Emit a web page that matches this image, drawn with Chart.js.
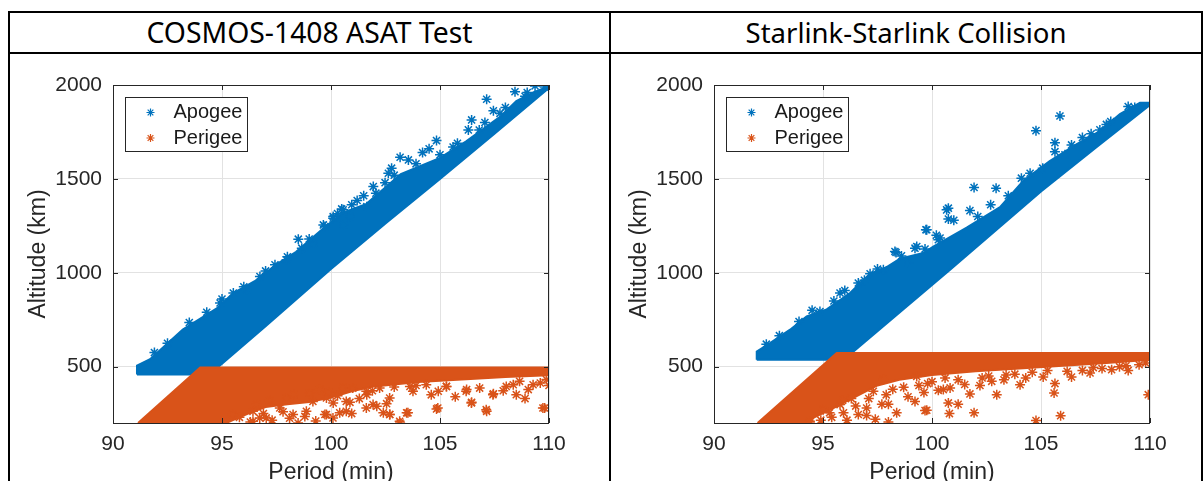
<!DOCTYPE html>
<html>
<head>
<meta charset="utf-8">
<script src="https://cdn.jsdelivr.net/npm/chart.js@4.4.1/dist/chart.umd.min.js"></script>
<style>
  html, body { margin: 0; padding: 0; width: 1204px; height: 481px; overflow: hidden; background: #fff; }
  .rule { position: absolute; background: #000; }
  .head { position: absolute; top: 13px; height: 39px; line-height: 39px; text-align: center;
          font-family: "Noto Sans", "Open Sans", sans-serif; font-size: 26px; color: #000; white-space: nowrap; }
  canvas { position: absolute; }
</style>
</head>
<body>
<div class="rule" style="left:8px;top:11px;width:1195px;height:2px"></div>
<div class="rule" style="left:8px;top:52px;width:1195px;height:2px"></div>
<div class="rule" style="left:8px;top:11px;width:2px;height:480px"></div>
<div class="rule" style="left:609px;top:11px;width:2px;height:480px"></div>
<div class="rule" style="left:1201px;top:11px;width:2px;height:480px"></div>
<div class="head" style="left:10px;width:599px"><span id="h1">COSMOS-1408 ASAT Test</span></div>
<div class="head" style="left:611px;width:590px"><span id="h2">Starlink-Starlink Collision</span></div>
<canvas id="c1" width="598" height="430" style="left:10px;top:54px"></canvas>
<canvas id="c2" width="590" height="430" style="left:611px;top:54px"></canvas>

<script>
// axis ticks
const xTicks = [90, 95, 100, 105, 110];
const yTicks = [500, 1000, 1500, 2000];

// ---- COSMOS-1408: dense regions (outline [period, altitude]) + scattered fragments
const cosmosApogeeBand = [
  [91.1, 458], [94.4, 458], [94.8, 496], [97, 715], [100, 1020], [102.5, 1263], [105, 1500],
  [107.5, 1740], [110, 1985], [110.05, 1995], [109.3, 1962], [108.5, 1915], [107.75, 1830],
  [106.2, 1700], [105, 1612], [103.2, 1525], [101.6, 1365], [100.55, 1320], [99.6, 1232],
  [98.4, 1112], [97.5, 1045], [96.5, 955], [95.5, 890], [94.76, 810], [93.2, 697],
  [91.7, 540], [91.1, 505], [91.1, 458]
];
const cosmosApogeePts = [
  [107.14, 1924], [108.44, 1964], [109.36, 1995], [107.45, 1863], [106.45, 1814], [107.06, 1800],
  [107.75, 1849], [104.84, 1704], [106.3, 1761], [105, 1628], [103.17, 1615], [103.55, 1601],
  [102.78, 1557], [102.63, 1530], [101.94, 1459], [102.06, 1424], [102.48, 1480], [100.95, 1362],
  [100.49, 1340], [100.1, 1300], [99.65, 1255], [100.56, 1255], [99.2, 1158], [100.87, 1300],
  [101.64, 1352], [98.5, 1179], [98.66, 1131], [97.96, 1069], [97.43, 1043], [96.74, 980],
  [96.13, 910], [95.52, 892], [94.91, 839], [100.1, 1291], [100.56, 1335], [99.72, 1246],
  [109.8, 1990], [108.9, 1940], [104.2, 1640], [105.6, 1670],
  [91.9, 575], [92.5, 625], [93.5, 735], [94.3, 790], [95.0, 860], [96.0, 925], [97.0, 1010],
  [98.0, 1085], [99.0, 1180], [100.3, 1315], [101.2, 1385], [101.5, 1410], [102.9, 1520],
  [103.9, 1580], [104.5, 1660], [105.8, 1690], [106.8, 1760], [108.0, 1880], [109.0, 1960]
];
const cosmosPerigeeBand = [
  [91.15, 200], [94.0, 496], [110.05, 496], [110.05, 455], [108, 445], [106, 432], [104, 418],
  [102, 395], [101, 370], [100, 335], [99, 312], [98, 300], [97, 285], [96.2, 250],
  [95.5, 215], [95.2, 200], [91.15, 200]
];
const cosmosPerigeePts = [
  [103.17, 200], [102.7, 245], [103.47, 254], [104.84, 275], [107.14, 262], [109.8, 280],
  [106.45, 310], [107.45, 356], [108.5, 351], [109.05, 378], [104.92, 369], [106.22, 378],
  [102.1, 289], [102.4, 254], [100.95, 250], [100.4, 254], [99.72, 245], [100.1, 307],
  [100.87, 310], [101.64, 351], [103.62, 395], [102.55, 303], [108.36, 404], [109.6, 413],
  [105.3, 395], [98.49, 200], [96.73, 227], [99.79, 245], [100.7, 262], [103.15, 209],
  [103.53, 254], [99.17, 315], [97.95, 333], [96.42, 262], [95.5, 245], [101.93, 298],
  [101.62, 369], [100.55, 387], [107.12, 271], [104.9, 280], [106.44, 307], [109.72, 280],
  [107.43, 351],
  [99.48, 378], [99.79, 333], [100.7, 315], [101.0, 386], [102.23, 386], [102.69, 333],
  [103.76, 369], [104.37, 404], [105.29, 395], [106.2, 369], [106.82, 386], [108.04, 395],
  [108.65, 422], [109.27, 404], [109.88, 431], [97.65, 280], [97.03, 227], [98.26, 245],
  [98.87, 262], [96.42, 209], [101.62, 280], [102.69, 245], [100.09, 227],
  [95.8, 230], [96.3, 205], [96.9, 250], [97.3, 215], [97.8, 260], [98.1, 225], [98.8, 235],
  [99.3, 210], [96.6, 300], [97.2, 320], [98.3, 350], [99.0, 360], [99.9, 365], [100.3, 345],
  [101.3, 330], [101.9, 372], [102.9, 392], [103.9, 400], [104.6, 350], [105.7, 340],
  [107.9, 372], [108.9, 330], [110.0, 400]
];

// ---- Starlink-Starlink collision
const starlinkApogeeBand = [
  [91.96, 537], [95.9, 537], [96.32, 573], [100.83, 1016], [105, 1433], [107.5, 1665],
  [110, 1894], [110.05, 1905], [109.54, 1905], [108.62, 1845], [107.7, 1755], [106.64, 1685],
  [105.4, 1595], [104.19, 1490], [103.12, 1350], [101.59, 1240], [100.06, 1140], [99.6, 1105],
  [98.53, 1075], [97.92, 1030], [97.16, 995], [96.24, 892], [95.17, 805], [94.25, 768],
  [93.49, 697], [92.57, 626], [91.96, 580], [91.96, 537]
];
const starlinkApogeePts = [
  [105.87, 1835], [104.77, 1757], [105.64, 1693], [105.64, 1645], [106.4, 1681], [106.1, 1628],
  [105.08, 1557], [104.1, 1504], [101.93, 1454], [102.94, 1450], [100.75, 1344], [101.74, 1331],
  [102.69, 1362], [100.75, 1286], [99.76, 1229], [100.29, 1176], [99.22, 1131], [99.68, 1126],
  [109.0, 1885], [108.2, 1805], [107.7, 1761], [98.35, 1108], [99.72, 1229], [96.62, 945],
  [95.78, 892], [97.16, 995], [94.86, 794], [100.67, 1335], [100.37, 1185], [98.9, 1052],
  [97.77, 1016], [98.3, 1113],
  [92.4, 620], [93.0, 665], [93.9, 740], [94.5, 800], [95.5, 850], [96.0, 905], [96.9, 960],
  [97.5, 1020], [98.6, 1090], [99.3, 1140], [100.2, 1200], [101.0, 1280], [102.1, 1300],
  [103.5, 1410], [104.5, 1530], [106.9, 1720], [107.3, 1740], [108.0, 1790], [109.3, 1880]
];
const starlinkPerigeeBand = [
  [92.0, 200], [95.63, 573], [110.05, 573], [110.05, 537], [108, 520], [106, 505], [104, 490],
  [102, 475], [100, 455], [98.5, 430], [97.5, 400], [96.5, 340], [95.5, 280], [94.6, 230],
  [94.2, 200], [92.0, 200]
];
const starlinkPerigeePts = [
  [104.77, 213], [105.9, 239], [109.92, 351], [105.6, 360], [105.64, 410], [102.97, 351],
  [101.74, 355], [101.93, 254], [100.8, 250], [99.76, 268], [100.75, 307], [100.29, 374],
  [99.63, 363], [99.22, 315], [100.83, 387], [104.04, 404], [105.1, 445], [106.4, 445],
  [109.0, 480], [107.25, 466], [108.24, 484], [102.74, 422], [98.38, 254], [99.68, 266],
  [97.77, 431], [97.31, 369], [96.62, 245], [95.78, 298], [95.01, 271], [94.4, 209],
  [99.3, 448], [100.52, 378], [95.94, 254], [94.4, 200],
  [96.3, 330], [97.0, 280], [97.9, 350], [98.7, 390], [99.8, 410], [101.2, 430], [102.3, 440],
  [103.4, 455], [104.6, 470], [106.9, 480], [108.6, 500], [95.4, 230], [96.1, 215], [98.0, 300],
  [101.2, 300], [102.2, 400], [103.8, 460], [107.8, 490], [109.5, 510], [97.4, 220],
  [94.9, 215], [95.3, 255], [95.9, 320], [96.5, 290], [97.1, 330], [97.7, 300], [98.2, 380],
  [98.9, 340], [99.4, 400], [100.0, 420], [100.6, 440], [101.5, 405], [102.6, 450], [103.3, 430],
  [104.3, 440], [105.3, 480], [106.2, 475], [107.4, 495], [108.9, 505], [109.8, 520],
  [97.0, 240], [98.0, 205]
];

const BLUE = "#0072BD";
const ORANGE = "#D95319";
const INK = "#262626";
const FONT = "'Liberation Sans', Arial, sans-serif";

const xy = (arr) => arr.map((p) => ({ x: p[0], y: p[1] }));

// box, inward ticks and the inset legend, MATLAB style
const matlabAxes = {
  id: "matlabAxes",
  afterDatasetsDraw(chart) {
    const { ctx, chartArea: a, scales } = chart;
    ctx.save();
    ctx.strokeStyle = INK;
    ctx.lineWidth = 1;
    ctx.strokeRect(Math.round(a.left) + 0.5, Math.round(a.top) + 0.5,
      Math.round(a.right - a.left) - 1, Math.round(a.bottom - a.top));
    ctx.beginPath();
    xTicks.forEach((v) => {
      const px = Math.round(scales.x.getPixelForValue(v)) + 0.5;
      ctx.moveTo(px, a.bottom); ctx.lineTo(px, a.bottom - 5);
      ctx.moveTo(px, a.top); ctx.lineTo(px, a.top + 5);
    });
    yTicks.forEach((v) => {
      const py = Math.round(scales.y.getPixelForValue(v)) + 0.5;
      ctx.moveTo(a.left, py); ctx.lineTo(a.left + 5, py);
      ctx.moveTo(a.right, py); ctx.lineTo(a.right - 5, py);
    });
    ctx.stroke();
    ctx.restore();
  },
  afterDraw(chart) {
    const { ctx, chartArea: a } = chart;
    const bx = Math.round(a.left) + 12.5, by = Math.round(a.top) + 12.5;
    ctx.save();
    ctx.fillStyle = "#fff";
    ctx.fillRect(bx, by, 122, 54);
    ctx.strokeStyle = INK;
    ctx.lineWidth = 1;
    ctx.strokeRect(bx, by, 122, 54);
    const entries = [["Apogee", BLUE, 15], ["Perigee", ORANGE, 40.5]];
    entries.forEach(([label, color, dy]) => {
      ctx.strokeStyle = color;
      ctx.lineWidth = 1.2;
      Chart.helpers.drawPoint(ctx, { pointStyle: "star", radius: 4, rotation: 0, borderWidth: 1.2 }, bx + 25, by + dy);
      ctx.fillStyle = "#1a1a1a";
      ctx.font = "20px " + FONT;
      ctx.textBaseline = "middle";
      ctx.textAlign = "left";
      ctx.fillText(label, bx + 48, by + dy);
    });
    ctx.restore();
  },
};

function band(data, color, order) {
  return {
    label: "band",
    data: xy(data),
    showLine: true,
    fill: "shape",
    tension: 0,
    borderColor: color,
    backgroundColor: color,
    borderWidth: 2,
    pointRadius: 0,
    order,
  };
}

function stars(label, data, color, order) {
  return {
    label,
    data: xy(data),
    showLine: false,
    pointStyle: "star",
    pointRadius: 5,
    borderWidth: 1.5,
    borderColor: color,
    backgroundColor: color,
    order,
  };
}

function makeChart(id, padRight, apoBand, apoPts, periBand, periPts) {
  return new Chart(document.getElementById(id), {
    type: "scatter",
    data: {
      datasets: [
        band(apoBand, BLUE, 4),
        stars("Apogee", apoPts, BLUE, 3),
        band(periBand, ORANGE, 2),
        stars("Perigee", periPts, ORANGE, 1),
      ],
    },
    options: {
      responsive: false,
      animation: false,
      devicePixelRatio: 1,
      layout: { padding: { left: 0, right: padRight, top: 31, bottom: 0 } },
      plugins: { legend: { display: false }, tooltip: { enabled: false } },
      scales: {
        x: {
          type: "linear",
          min: 90,
          max: 110,
          afterBuildTicks: (s) => { s.ticks = xTicks.map((v) => ({ value: v })); },
          afterFit: (s) => { s.height = 61; },
          grid: { color: "#e2e2e2", drawTicks: false },
          border: { display: false },
          ticks: { color: INK, padding: 9, font: { family: FONT, size: 21 }, callback: (v) => String(v) },
          title: {
            display: true,
            text: "Period (min)",
            color: INK,
            padding: { top: 0, bottom: 0 },
            font: { family: FONT, size: 23, lineHeight: 1 },
          },
        },
        y: {
          type: "linear",
          min: 200,
          max: 2000,
          afterBuildTicks: (s) => { s.ticks = yTicks.map((v) => ({ value: v })); },
          afterFit: (s) => { s.width = 103; },
          grid: { color: "#e2e2e2", drawTicks: false },
          border: { display: false },
          ticks: { color: INK, padding: 11, font: { family: FONT, size: 21 }, callback: (v) => String(v) },
          title: {
            display: true,
            text: "Altitude (km)",
            color: INK,
            padding: { top: 17, bottom: 0 },
            font: { family: FONT, size: 23, lineHeight: 1 },
          },
        },
      },
    },
    plugins: [matlabAxes],
  });
}

// header text scaled to the widths seen in the table
function fitHead(id, target) {
  const el = document.getElementById(id);
  const w = el.getBoundingClientRect().width;
  el.style.fontSize = (26 * target / w).toFixed(2) + "px";
}
fitHead("h1", 326);
fitHead("h2", 321);

makeChart("c1", 59, cosmosApogeeBand, cosmosApogeePts, cosmosPerigeeBand, cosmosPerigeePts);
makeChart("c2", 51, starlinkApogeeBand, starlinkApogeePts, starlinkPerigeeBand, starlinkPerigeePts);
</script>
</body>
</html>
